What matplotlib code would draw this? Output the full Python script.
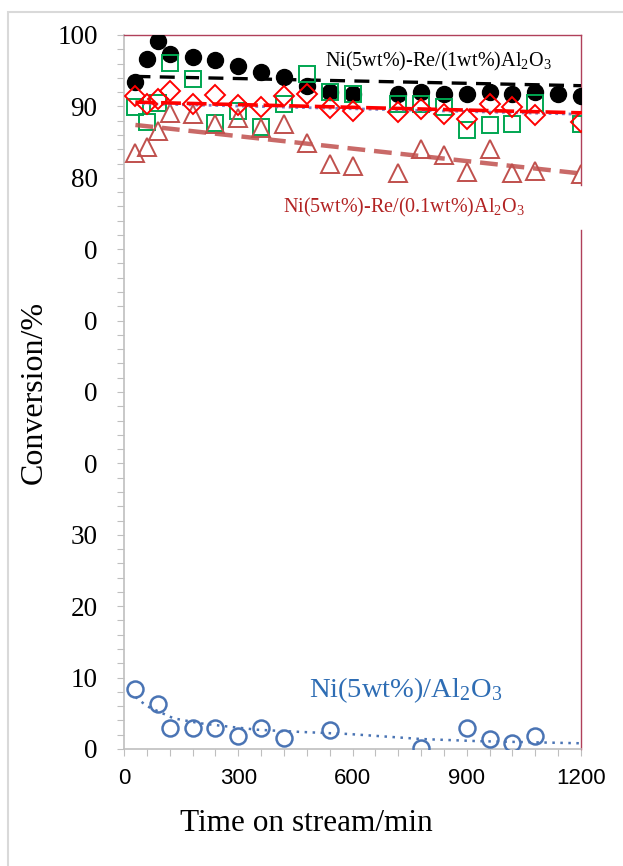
# Conversion vs time on stream for Ni / Ni-Re catalysts

import matplotlib
matplotlib.use("Agg")
import matplotlib.pyplot as plt
from matplotlib.patches import Rectangle

plt.rcParams['font.family'] = ['Liberation Serif', 'DejaVu Serif']
plt.rcParams['mathtext.fontset'] = 'custom'
plt.rcParams['mathtext.rm'] = 'Liberation Serif'
plt.rcParams['mathtext.default'] = 'regular'

# Ni(5wt%)-Re/(1wt%)Al2O3 (black filled circles)
t_black = [30, 60, 90, 120, 180, 240, 300, 360, 420, 480, 540, 600,
           720, 780, 840, 900, 960, 1020, 1080, 1140, 1200]
y_black = [93.4, 96.7, 99.1, 97.4, 96.9, 96.5, 95.6, 94.8, 94.1, 92.9, 92.0, 91.7,
           91.7, 92.0, 91.7, 91.7, 92.0, 91.7, 92.0, 91.7, 91.5]
trend_black_t = [30, 1200]
trend_black_y = [94.2, 92.9]

# green open squares
t_green = [30, 60, 90, 120, 180, 240, 300, 360, 420, 480, 540, 600,
           720, 780, 840, 900, 960, 1020, 1080, 1200]
y_green = [89.9, 87.8, 90.5, 96.1, 93.8, 87.7, 89.3, 87.1, 90.3, 94.5, 92.0, 91.7,
           90.3, 90.3, 89.9, 86.7, 87.4, 87.6, 90.5, 87.6]
trend_green_t = [30, 1200]
trend_green_y = [90.4, 88.9]

# red open diamonds
t_red = [30, 60, 90, 120, 180, 240, 300, 360, 420, 480, 540, 600,
         720, 780, 840, 900, 960, 1020, 1080, 1200]
y_red = [91.4, 90.3, 91.0, 92.2, 90.3, 91.6, 90.2, 89.9, 91.5, 91.7, 89.8, 89.3,
         89.2, 89.6, 89.0, 88.2, 90.3, 89.9, 88.8, 87.8]
trend_red_t = [30, 1200]
trend_red_y = [90.6, 89.1]

# Ni(5wt%)-Re/(0.1wt%)Al2O3 (brown open triangles)
t_tri = [30, 60, 90, 120, 180, 240, 300, 360, 420, 480, 540, 600,
         720, 780, 840, 900, 960, 1020, 1080, 1200]
y_tri = [83.5, 84.3, 86.5, 89.1, 89.0, 87.6, 88.4, 87.0, 87.5, 84.9, 81.9, 81.7,
         80.7, 84.1, 83.2, 80.8, 84.0, 80.7, 80.9, 80.5]
trend_tri_t = [30, 1200]
trend_tri_y = [87.4, 80.6]

# Ni(5wt%)/Al2O3 (blue open circles)
t_blue = [30, 90, 120, 180, 240, 300, 360, 420, 540, 780, 900, 960, 1020, 1080]
y_blue = [8.4, 6.3, 2.9, 2.9, 2.9, 1.8, 3.0, 1.6, 2.7, 0.1, 2.9, 1.4, 0.9, 1.8]
trend_blue_t = [30, 60, 130, 200, 280, 350, 460, 590, 780, 930, 1200]
trend_blue_y = [7.3, 6.0, 4.3, 3.6, 3.1, 2.7, 2.4, 2.1, 1.4, 1.1, 0.8]

y_ticks = [100, 90, 80, 70, 60, 50, 40, 30, 20, 10, 0]
y_ticklabels = ['100', '90', '80', '0', '0', '0', '0', '30', '20', '10', '0']
x_ticks = [0, 300, 600, 900, 1200]

fig = plt.figure(figsize=(6.23, 8.66), dpi=100)
fig.patches.append(Rectangle((8 / 623, -0.05), 1.1, 0.05 + 1 - 12 / 866,
                             transform=fig.transFigure, fill=False,
                             edgecolor='#d9d9d9', linewidth=1.5))
ax = fig.add_axes([124 / 623, 1 - 749 / 866, 457 / 623, 714 / 866])

ax.plot(t_black, y_black, 'o', color='black', markersize=11.5, zorder=3)
ax.plot(trend_black_t, trend_black_y, color='black', linewidth=2.4,
        dashes=(4.5, 2.8), zorder=4)

ax.plot(t_green, y_green, 's', markerfacecolor='none', markeredgecolor='#00a651',
        markeredgewidth=1.4, markersize=11.5, zorder=5)
ax.plot(trend_green_t, trend_green_y, color='#7b7fc4', linewidth=2,
        linestyle=(0, (1, 1.4)), zorder=6)

ax.plot(t_tri, y_tri, '^', markerfacecolor='none', markeredgecolor='#c0504d',
        markeredgewidth=1.4, markersize=12.5, zorder=5)
ax.plot(trend_tri_t, trend_tri_y, color='#c0504d', alpha=0.85, linewidth=3.2,
        dashes=(4, 2), zorder=6)

ax.plot(t_red, y_red, 'D', markerfacecolor='none', markeredgecolor='#ff0000',
        markeredgewidth=1.4, markersize=10, zorder=7)
ax.plot(trend_red_t, trend_red_y, color='#ff0000', linewidth=2.6,
        dashes=(5.5, 1.6), zorder=8)

ax.plot(t_blue, y_blue, 'o', markerfacecolor='none', markeredgecolor='#4a74b4',
        markeredgewidth=1.8, markersize=11.5, zorder=5)
ax.plot(trend_blue_t, trend_blue_y, color='#4a74b4', linewidth=1.8,
        linestyle=(0, (1, 2.2)), zorder=6)

ax.set_xlim(0, 1200)
ax.set_ylim(0, 100)
ax.set_xticks(range(0, 1201, 60))
ax.set_xticklabels([str(v) if v in x_ticks else '' for v in range(0, 1201, 60)],
                   family='Liberation Sans', fontsize=16)
ax.set_yticks(range(0, 101, 2))
ax.set_yticklabels([y_ticklabels[y_ticks.index(v)] if v in y_ticks else ''
                    for v in range(0, 101, 2)], fontsize=19.5)
ax.tick_params(axis='y', direction='out', length=5, color='#bfbfbf', pad=14)
ax.tick_params(axis='x', direction='out', length=5, color='#bfbfbf', pad=9)

for side in ['left', 'bottom']:
    ax.spines[side].set_color('#bfbfbf')
    ax.spines[side].set_linewidth(1.2)
ax.spines['top'].set_color('#b0405a')
ax.spines['top'].set_linewidth(1)
ax.spines['right'].set_color('#b0405a')
ax.spines['right'].set_linewidth(1)
ax.spines['right'].set_bounds(0, 72.7)
ax.axvline(1200, ymin=0.79, ymax=1, color='#b0405a', linewidth=1, clip_on=False)

ax.set_xlabel('Time on stream/min', fontsize=22.5)
ax.xaxis.set_label_coords(0.40, -0.084)
ax.set_ylabel('Conversion/%', fontsize=23)
ax.yaxis.set_label_coords(-0.165, 0.50)

ax.text(527, 96.3, 'Ni(5wt%)-Re/(1wt%)Al$_2$O$_3$', fontsize=14.5, color='black',
        va='center', ha='left', zorder=10)
ax.text(417, 75.8, 'Ni(5wt%)-Re/(0.1wt%)Al$_2$O$_3$', fontsize=14.5, color='#b22222',
        va='center', ha='left', zorder=10)
ax.text(485, 8.3, 'Ni(5wt%)/Al$_2$O$_3$', fontsize=20.5, color='#2e6db4',
        va='center', ha='left', zorder=10)

fig.savefig('out.png', dpi=100)
